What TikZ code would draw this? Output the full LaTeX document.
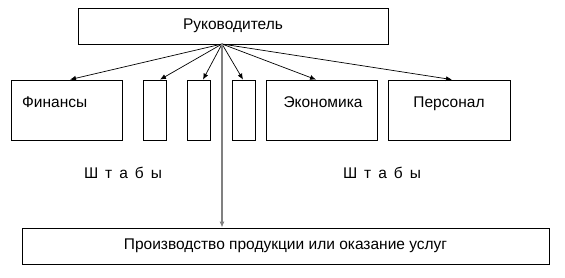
\documentclass[tikz,border=0pt]{standalone}
\usepackage{fontspec}
\setmainfont{Liberation Sans}
\usetikzlibrary{arrows.meta}
\begin{document}
\begin{tikzpicture}[x=1pt,y=-1pt,>={Latex[length=6pt,width=5pt]},
    box/.style={draw,line width=0.8pt,inner sep=0pt},
    txt/.style={font=\fontsize{15.5}{18}\selectfont,inner sep=0pt},
    arr/.style={->,line width=0.7pt}]
    \useasboundingbox (0,0) rectangle (565,277);

    % 1. Caja del jefe
    \node[box,minimum width=310pt,minimum height=36pt,txt] (head) at (233,26) {Руководитель};
    \coordinate (src) at (222,44);

    % 2. Fila de departamentos
    \node[box,minimum width=111pt,minimum height=60pt] (fin) at (66.5,110) {};
    \node[box,minimum width=23pt,minimum height=60pt] (s1) at (154.5,110) {};
    \node[box,minimum width=23pt,minimum height=60pt] (s2) at (199,110) {};
    \node[box,minimum width=23pt,minimum height=60pt] (s3) at (243.5,110) {};
    \node[box,minimum width=111pt,minimum height=60pt] (eco) at (321.5,110) {};
    \node[box,minimum width=122pt,minimum height=60pt] (per) at (449,110) {};
    \node[txt,anchor=base west] (finT) at (22,107) {Финансы};
    \node[txt,anchor=base] (ecoT) at (323,107) {Экономика};
    \node[txt,anchor=base] (perT) at (449,107) {Персонал};

    % 3. Staffs
    \node[txt,anchor=base] (st1) at (123,178) {Ш\hspace{7pt}т\hspace{7pt}а\hspace{7pt}б\hspace{7pt}ы};
    \node[txt,anchor=base] (st2) at (382,178) {Ш\hspace{7pt}т\hspace{7pt}а\hspace{7pt}б\hspace{7pt}ы};

    % 4. Caja de producción
    \node[box,minimum width=527pt,minimum height=36pt,txt] (prod) at (285.5,246) {Производство продукции или оказание услуг};

    % 5. Flechas
    \draw[arr] (src) -- (fin.north -| 70,0);
    \draw[arr] (src) -- (s1.north -| 160,0);
    \draw[arr] (src) -- (s2.north -| 203,0);
    \draw[arr] (src) -- (s3.north -| 243,0);
    \draw[arr] (src) -- (eco.north -| 316,0);
    \draw[arr] (src) -- (per.north -| 452,0);
    \draw[arr,gray,line width=1.3pt] (src) -- (prod.north -| src);

\end{tikzpicture}
\end{document}
